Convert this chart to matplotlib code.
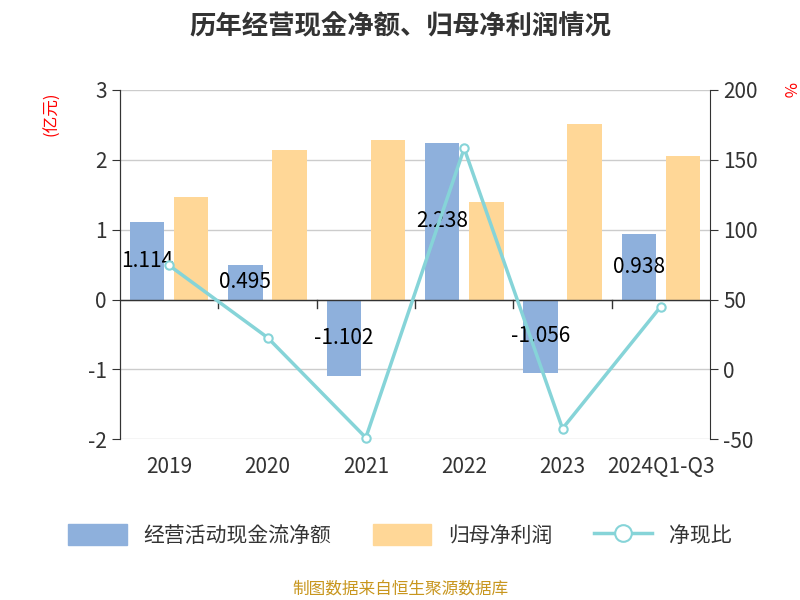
import matplotlib.pyplot as plt
import numpy as np
from matplotlib.patches import Patch
from matplotlib.lines import Line2D

plt.rcParams['font.family'] = ['Noto Sans CJK JP']
plt.rcParams['axes.unicode_minus'] = False

years = ["2019", "2020", "2021", "2022", "2023", "2024Q1-Q3"]
cash_flow = [1.114, 0.495, -1.102, 2.238, -1.056, 0.938]
net_profit = [1.47, 2.14, 2.29, 1.40, 2.51, 2.06]
ratio = [74.4, 22.8, -48.9, 158.2, -42.4, 45.0]

fig = plt.figure(figsize=(8, 6), dpi=100)
ax = fig.add_axes([0.15, 0.268, 0.7375, 0.582])
ax2 = ax.twinx()

x = np.arange(len(years))
w = 0.35
ax.bar(x - 0.225, cash_flow, w, color="#8EB0DC", zorder=2)
ax.bar(x + 0.225, net_profit, w, color="#FFD797", zorder=2)
for xi, v in zip(x, cash_flow):
    ax.text(xi - 0.225, v / 2, f"{v:.3f}", ha="center", va="center", fontsize=15, zorder=5)

ax2.plot(x, ratio, color="#86D4D8", lw=2.5, marker="o", markersize=6, clip_on=False,
         markerfacecolor="white", markeredgecolor="#86D4D8", markeredgewidth=1.5)

ax.set_xlim(-0.5, len(years) - 0.5)
ax.set_ylim(-2, 3)
ax.set_yticks([-2, -1, 0, 1, 2, 3])
ax2.set_ylim(-50, 200)
ax2.set_yticks([-50, 0, 50, 100, 150, 200])
ax.grid(axis="y", color="#cccccc", lw=1, zorder=0)
ax.axhline(0, color="#333333", lw=1, zorder=3)
ax.set_xticks(x)
ax.set_xticklabels(years)
ax.tick_params(axis="x", length=0, pad=12, labelsize=15, colors="#333333")
for a in (ax, ax2):
    a.tick_params(axis="y", labelsize=15, colors="#333333", length=6)
    for s in ["top", "bottom"]:
        a.spines[s].set_visible(False)
ax.spines["right"].set_visible(False)
ax2.spines["left"].set_color("#333333")
ax2.spines["right"].set_color("#333333")
ax.spines["left"].set_color("#333333")
for xb in np.arange(0.5, len(years) - 0.5):
    ax.plot([xb, xb], [0, -0.12], color="#333333", lw=1, clip_on=False, zorder=3)

fig.text(0.065, 0.81, "(亿元)", color="red", fontsize=12, rotation=90, ha="center", va="center")
fig.text(0.985, 0.85, "%", color="red", fontsize=12, rotation=270, ha="center", va="center")
fig.text(0.5, 0.955, "历年经营现金净额、归母净利润情况", ha="center", va="center",
         fontsize=19, fontweight="bold", color="#333333")

handles = [Patch(color="#8EB0DC"), Patch(color="#FFD797"),
           Line2D([0], [0], color="#86D4D8", lw=2.5, marker="o", markersize=12,
                  markerfacecolor="white", markeredgewidth=1.5)]
fig.legend(handles, ["经营活动现金流净额", "归母净利润", "净现比"], loc="center",
           bbox_to_anchor=(0.5, 0.108), ncol=3, frameon=False, fontsize=15,
           handlelength=2.8, handleheight=1.2, columnspacing=2, labelcolor="#333333")
fig.text(0.5, 0.018, "制图数据来自恒生聚源数据库", ha="center", va="center",
         fontsize=12, color="#C8961E")

fig.savefig("out.png")
